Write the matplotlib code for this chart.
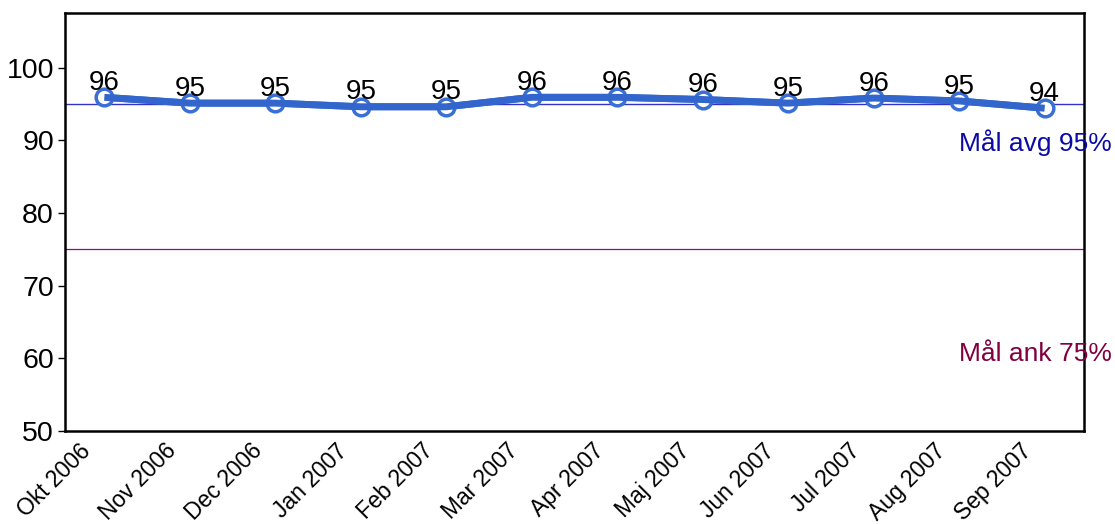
import matplotlib
matplotlib.use("Agg")
import matplotlib.pyplot as plt
import matplotlib.transforms as mtransforms
import numpy as np

# data
months = ["Okt 2006", "Nov 2006", "Dec 2006", "Jan 2007", "Feb 2007", "Mar 2007",
          "Apr 2007", "Maj 2007", "Jun 2007", "Jul 2007", "Aug 2007", "Sep 2007"]
values = [95.9, 95.1, 95.1, 94.6, 94.6, 95.9, 95.9, 95.6, 95.1, 95.8, 95.4, 94.4]
goal_avg = 95
goal_ank = 75

plt.rcParams['font.family'] = ['Liberation Sans', 'DejaVu Sans']

fig = plt.figure(figsize=(11.15, 5.24), dpi=100)
ax = fig.add_axes([65 / 1115, 1 - 431 / 524, 1019 / 1115, 418 / 524])

x = np.arange(len(months))
ax.axhline(goal_avg, color='#3333cc', lw=1, zorder=1)
ax.axhline(goal_ank, color='#990099', lw=0.9, zorder=1)

ax.plot(x, values, color='#3366cc', lw=5, zorder=3,
        marker='o', ms=12, mfc='white', mec='#3a6fd6', mew=2.5)
ax.plot(x, values, color='#3366cc', lw=5, zorder=4, solid_capstyle='butt')

for xi, v in zip(x, values):
    ax.annotate(f"{v:.0f}", (xi, v), xytext=(0, 1), textcoords='offset points',
                ha='center', va='bottom', fontsize=20, zorder=5)

# goal labels, hanging past the right spine
trans = mtransforms.blended_transform_factory(ax.transAxes, ax.transData)
ax.text(1.0275, 89.6, "Mål avg 95%", transform=trans,
        ha='right', va='center', color='#0a0aa5', fontsize=19)
ax.text(1.0275, 60.6, "Mål ank 75%", transform=trans,
        ha='right', va='center', color='#800040', fontsize=19)

ax.set_xlim(-0.46, 11.46)
ax.set_ylim(50, 107.5)
ax.set_yticks([50, 60, 70, 80, 90, 100])
ax.tick_params(axis='y', labelsize=20.5, length=5, width=1, pad=3)
ax.set_xticks(x)
ax.set_xticklabels(months, rotation=45, ha='right', rotation_mode='anchor', fontsize=16.5)
ax.tick_params(axis='x', length=0, pad=6)
shift = mtransforms.ScaledTranslation(-0.25, 0, fig.dpi_scale_trans)
for lab in ax.get_xticklabels():
    lab.set_transform(lab.get_transform() + shift)
for s in ax.spines.values():
    s.set_linewidth(1.8)

fig.savefig("out.png", dpi=100)
